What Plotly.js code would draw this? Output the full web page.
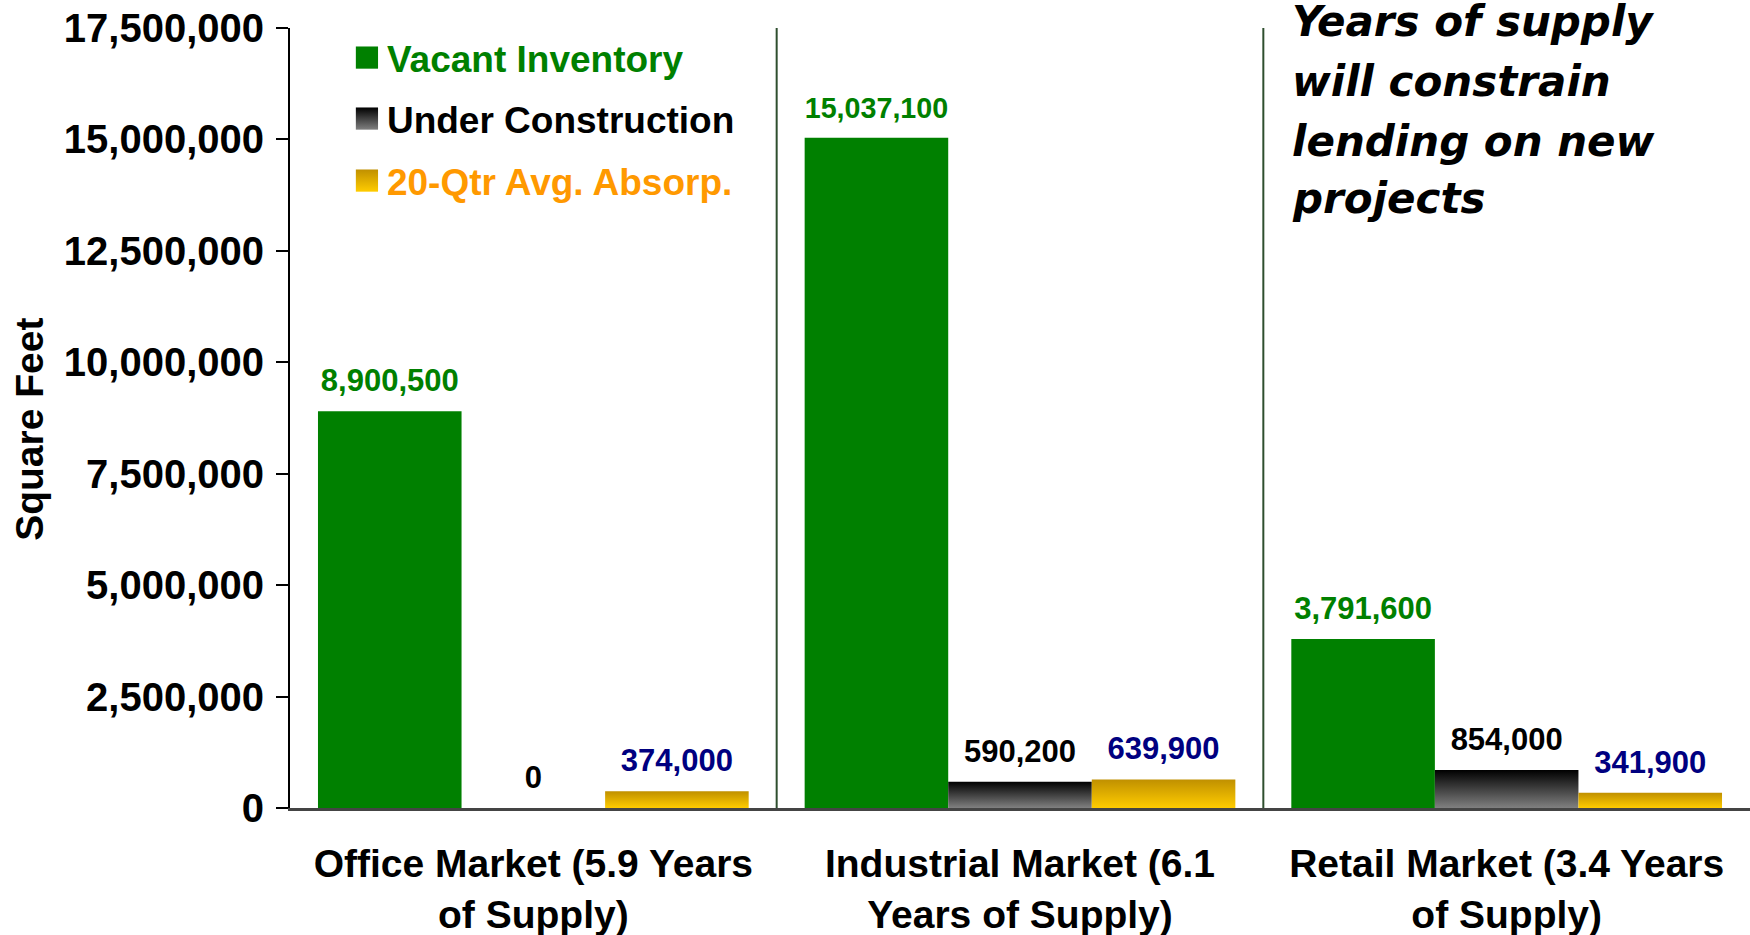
<!DOCTYPE html>
<html>
<head>
<meta charset="utf-8">
<script src="https://cdn.plot.ly/plotly-3.0.1.min.js"></script>
<style>
html,body{margin:0;padding:0;background:#fff;}
#chart{width:1750px;height:935px;}
</style>
</head>
<body>
<div id="chart"></div>
<script>
var categories = ["Office Market (5.9 Years<br>of Supply)", "Industrial Market (6.1<br>Years of Supply)", "Retail Market (3.4 Years<br>of Supply)"];
var seriesNames = ["Vacant Inventory", "Under Construction", "20-Qtr Avg. Absorp."];
var vacantInventory = [8900500, 15037100, 3791600];
var underConstruction = [0, 590200, 854000];
var avgAbsorption = [374000, 639900, 341900];
var yTickVals = [0, 2500000, 5000000, 7500000, 10000000, 12500000, 15000000, 17500000];
var noteLines = ["Years of supply", "will constrain", "lending on new", "projects"];

var FONT = "Liberation Sans, Arial, sans-serif";
var labelFont = function(c){ return {family: FONT, size: 31, color: c, weight: "bold"}; };

var traces = [
  {type: "bar", name: seriesNames[0], x: categories, y: vacantInventory, legend: "legend",
   marker: {color: "#008000"}, text: vacantInventory.map(function(v){return v.toLocaleString("en-US");}),
   textposition: "outside", textfont: labelFont("#008000"), cliponaxis: false, hoverinfo: "y"},
  {type: "bar", name: seriesNames[1], x: categories, y: underConstruction, legend: "legend2",
   marker: {color: "#404040"}, text: underConstruction.map(function(v){return v.toLocaleString("en-US");}),
   textposition: "outside", textfont: labelFont("#000000"), cliponaxis: false, hoverinfo: "y"},
  {type: "bar", name: seriesNames[2], x: categories, y: avgAbsorption, legend: "legend3",
   marker: {color: "#e0b000"}, text: avgAbsorption.map(function(v){return v.toLocaleString("en-US");}),
   textposition: "outside", textfont: labelFont("#000080"), cliponaxis: false, hoverinfo: "y"}
];

function legendCfg(y, color){
  return {x: 0.039, y: y, xanchor: "left", yanchor: "middle", bgcolor: "rgba(0,0,0,0)",
          font: {family: FONT, size: 37, color: color, weight: "bold"}};
}

var annotations = [
  {xref: "paper", yref: "paper", x: -0.178, y: 0.485, text: "Square Feet", textangle: -90, showarrow: false,
   xanchor: "center", yanchor: "middle", font: {family: FONT, size: 39, color: "#000", weight: "bold"}}
];
var noteY = [1.0085, 0.9316, 0.8547, 0.7816];
noteLines.forEach(function(t, i){
  annotations.push({xref: "paper", yref: "paper", x: 0.685, y: noteY[i], text: t, showarrow: false,
    xanchor: "left", yanchor: "middle",
    font: {family: "Comic Sans MS, DejaVu Sans, sans-serif", size: 42, color: "#000", weight: "bold", style: "italic"}});
});

var layout = {
  width: 1750, height: 935,
  margin: {l: 290, r: 0, t: 28, b: 127},
  paper_bgcolor: "#ffffff", plot_bgcolor: "rgba(0,0,0,0)",
  barmode: "group", bargap: 0.115, bargroupgap: 0,
  showlegend: true,
  legend: legendCfg(0.9615, "#008000"),
  legend2: legendCfg(0.8833, "#000000"),
  legend3: legendCfg(0.8038, "#FF9900"),
  xaxis: {type: "category", showline: true, linecolor: "#444", linewidth: 3, ticks: "",
          tickfont: {family: FONT, size: 39, color: "#000", weight: "bold"}, ticklabelstandoff: 19,
          showgrid: false, zeroline: false, fixedrange: true},
  yaxis: {range: [0, 17500000], tickvals: yTickVals, tickformat: ",", showline: true, linecolor: "#000", linewidth: 2,
          ticks: "outside", ticklen: 12, tickwidth: 2, tickcolor: "#000", showgrid: false, zeroline: false,
          tickfont: {family: FONT, size: 40, color: "#000", weight: "bold"}, ticklabelstandoff: 4, fixedrange: true},
  yaxis2: {range: [0, 17500000], tickvals: yTickVals, overlaying: "y", side: "left", anchor: "x",
          ticks: "inside", ticklen: 12, tickwidth: 2, tickcolor: "#000", showticklabels: false,
          showgrid: false, zeroline: false, showline: false, fixedrange: true},
  shapes: [
    {type: "line", xref: "x", yref: "paper", x0: 0.5, x1: 0.5, y0: 0, y1: 1, line: {color: "#2f4f2f", width: 2}},
    {type: "line", xref: "x", yref: "paper", x0: 1.5, x1: 1.5, y0: 0, y1: 1, line: {color: "#2f4f2f", width: 2}}
  ],
  annotations: annotations
};

var gd = document.getElementById("chart");
Plotly.newPlot(gd, traces, layout, {displayModeBar: false, staticPlot: true}).then(function(){
  var svg = gd.querySelector("svg.main-svg");
  var ns = "http://www.w3.org/2000/svg";
  var defs = svg.querySelector("defs") || svg.insertBefore(document.createElementNS(ns, "defs"), svg.firstChild);
  function addGrad(id, top, bottom){
    var g = document.createElementNS(ns, "linearGradient");
    g.setAttribute("id", id); g.setAttribute("x1", "0"); g.setAttribute("y1", "0");
    g.setAttribute("x2", "0"); g.setAttribute("y2", "1");
    [[0, top], [1, bottom]].forEach(function(s){
      var st = document.createElementNS(ns, "stop");
      st.setAttribute("offset", s[0]); st.setAttribute("stop-color", s[1]); g.appendChild(st);
    });
    defs.appendChild(g);
  }
  addGrad("gradBlack", "#000000", "#808080");
  addGrad("gradGold", "#c09000", "#ffcc00");
  var fills = {};
  fills[seriesNames[0]] = null;
  fills[seriesNames[1]] = "url(#gradBlack)";
  fills[seriesNames[2]] = "url(#gradGold)";
  gd.querySelectorAll(".barlayer .trace").forEach(function(tr){
    var d = tr.__data__; var name = d && d[0] && d[0].trace ? d[0].trace.name : null;
    if (fills[name]) tr.querySelectorAll("path").forEach(function(p){ p.style.fill = fills[name]; });
    tr.querySelectorAll("text").forEach(function(t){
      var tf = t.getAttribute("transform") || "";
      t.setAttribute("transform", "translate(0,-10) " + tf);
    });
  });
  gd.querySelectorAll("g.traces").forEach(function(tr){
    var d = tr.__data__; var name = d && d[0] && d[0].trace ? d[0].trace.name : null;
    tr.querySelectorAll(".legendpoints path").forEach(function(p){
      var t = p.getAttribute("transform") || "";
      p.setAttribute("transform", t + " scale(1.85)");
      p.style.strokeWidth = "0";
      if (fills[name]) p.style.fill = fills[name];
    });
  });
});
</script>
</body>
</html>
